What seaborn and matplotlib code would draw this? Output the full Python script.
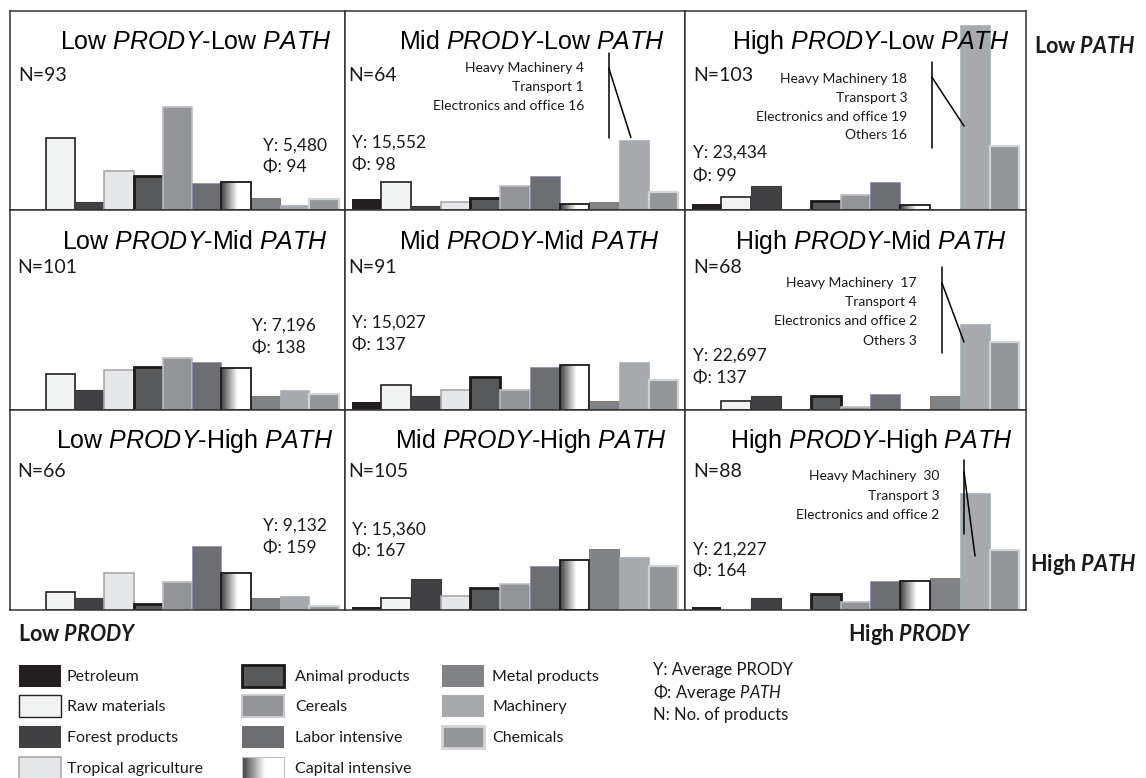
import numpy as np
import pandas as pd
import matplotlib
matplotlib.use("Agg")
import matplotlib.pyplot as plt
import seaborn as sns
from matplotlib.patches import Rectangle
from matplotlib.lines import Line2D
from matplotlib.colors import LinearSegmentedColormap

# ---------------- data ----------------
categories = ["Petroleum", "Raw materials", "Forest products", "Tropical agriculture",
              "Animal products", "Cereals", "Labor intensive", "Capital intensive",
              "Metal products", "Machinery", "Chemicals"]

low_prody_low_path   = [0, 71.6, 8.3, 39.3, 33.6, 102.6, 26.6, 28.3, 11.6, 4.6, 11.3]
mid_prody_low_path   = [11, 27.6, 4.3, 7.6, 12, 23.6, 34.3, 6.3, 7.6, 70.3, 18.3]
high_prody_low_path  = [6, 13, 24, 0, 9, 15, 28, 5.3, 0, 185, 64.3]
low_prody_mid_path   = [0, 36.3, 20, 39.7, 43.3, 52.3, 48, 42.3, 13.7, 20, 15.7]
mid_prody_mid_path   = [8, 25.3, 13.7, 20.3, 33, 20, 43, 45.3, 9.3, 48, 29.7]
high_prody_mid_path  = [0, 9, 14, 0, 14, 2.7, 15.7, 0, 13.7, 86, 68.3]
low_prody_high_path  = [0, 18.3, 11.7, 37.3, 6, 27.7, 64, 36.7, 12, 14, 4]
mid_prody_high_path  = [3, 11.7, 30.7, 14.3, 21.7, 25.7, 44, 50.3, 60.7, 53, 44]
high_prody_high_path = [3, 0, 12, 0, 16, 8, 28.7, 28.7, 31.7, 116.7, 60.3]

panel_values = [[low_prody_low_path, mid_prody_low_path, high_prody_low_path],
                [low_prody_mid_path, mid_prody_mid_path, high_prody_mid_path],
                [low_prody_high_path, mid_prody_high_path, high_prody_high_path]]

prody_levels = ["Low", "Mid", "High"]
path_levels = ["Low", "Mid", "High"]
n_products = [[93, 64, 103], [101, 91, 68], [66, 105, 88]]
avg_prody = [["5,480", "15,552", "23,434"], ["7,196", "15,027", "22,697"], ["9,132", "15,360", "21,227"]]
avg_path = [[94, 98, 99], [138, 137, 137], [159, 167, 164]]

machinery_notes = {
    (0, 1): ["Heavy Machinery 4", "Transport 1", "Electronics and office 16"],
    (0, 2): ["Heavy Machinery 18", "Transport 3", "Electronics and office 19", "Others 16"],
    (1, 2): ["Heavy Machinery  17", "Transport 4", "Electronics and office 2", "Others 3"],
    (2, 2): ["Heavy Machinery  30", "Transport 3", "Electronics and office 2"],
}

# ---------------- styles ----------------
fill_colors = ["#231f20", "#f1f2f2", "#414042", "#e6e7e8", "#58595b", "#939598",
               "#6d6e71", "#ffffff", "#808285", "#a7a9ac", "#939598"]
edge_colors = ["#231f20", "#231f20", "#3a3a3a", "#a7a9ac", "#1a1a1a", "#bcbec0",
               "#8d8ab5", "#1a1a1a", "#6b5e52", "#a3b5c0", "#cfd4d4"]
edge_widths = [0.0, 1.2, 0.8, 1.2, 2.0, 1.2, 0.5, 1.3, 0.5, 0.5, 1.6]
legend_edge_colors = ["#231f20", "#231f20", "#414042", "#a7a9ac", "#1a1a1a", "#c8cacc",
                      "#6d6e71", "#c0c0c0", "#808285", "#a7a9ac", "#d1d3d4"]
legend_edge_widths = [0.0, 1.0, 0.0, 1.2, 2.0, 1.4, 0.0, 0.8, 0.0, 0.0, 2.0]
grad_cmap = LinearSegmentedColormap.from_list(
    "capital", [(0.0, "#3c3c3c"), (0.55, "#ffffff"), (1.0, "#ffffff")])
grad = np.linspace(0, 1, 256).reshape(1, -1)

sns.set_style("white")
plt.rcParams["font.family"] = ["Lato", "DejaVu Sans"]
plt.rcParams["mathtext.fontset"] = "custom"
plt.rcParams["mathtext.rm"] = "Liberation Sans"
plt.rcParams["mathtext.it"] = "Liberation Sans:italic"
plt.rcParams["mathtext.sf"] = "Lato:italic"
plt.rcParams["mathtext.bf"] = "Lato:bold"
plt.rcParams["mathtext.bfit"] = "Lato:italic:bold"

W, H = 1146, 778
fig = plt.figure(figsize=(W / 100, H / 100), dpi=100)

col_edges = [10, 345, 685, 1026]
row_edges = [11, 210, 410, 610]
XLIM = (-0.72, 10.72)

rows = []
for r in range(3):
    for c in range(3):
        for cat, v in zip(categories, panel_values[r][c]):
            rows.append({"row": r, "col": c, "category": cat, "value": v})
df = pd.DataFrame(rows)
palette = dict(zip(categories, fill_colors))

# annotation geometry (data coords of each panel): vertical line x, y-range; diagonal start/end
note_lines = {
    (0, 1): dict(vx=8.16, vy=(157.5, 72.5), d0=(8.16, 141.5), d1=(8.90, 72.5)),
    (0, 2): dict(vx=7.56, vy=(148, 62), d0=(7.56, 133), d1=(8.64, 84)),
    (1, 2): dict(vx=7.90, vy=(143, 57), d0=(7.90, 127), d1=(8.64, 68)),
    (2, 2): dict(vx=8.64, vy=(150, 76), d0=(8.64, 138), d1=(9.01, 54)),
}

axes = {}
for r in range(3):
    for c in range(3):
        x0, x1 = col_edges[c], col_edges[c + 1]
        y0, y1 = row_edges[r], row_edges[r + 1]
        ax = fig.add_axes([x0 / W, 1 - y1 / H, (x1 - x0) / W, (y1 - y0) / H])
        sub = df[(df.row == r) & (df.col == c)]
        sns.barplot(data=sub, x="category", y="value", hue="category", order=categories,
                    hue_order=categories, palette=palette, width=1.0, saturation=1,
                    legend=False, errorbar=None, ax=ax)
        for p in ax.patches:
            i = int(round(p.get_x() + p.get_width() / 2))
            h = p.get_height()
            p.set_edgecolor(edge_colors[i])
            p.set_linewidth(edge_widths[i] if h > 0 else 0)
            if categories[i] == "Capital intensive" and h > 0:
                p.set_facecolor("none")
                p.set_zorder(3)
                im = ax.imshow(grad, extent=(p.get_x(), p.get_x() + p.get_width(), 0, h),
                               cmap=grad_cmap, aspect="auto", zorder=2.5, vmin=0, vmax=1)
                im.set_clip_path(p)
        if (r, c) in note_lines:
            g = note_lines[(r, c)]
            ax.add_line(Line2D([g["vx"], g["vx"]], list(g["vy"]), color="black", lw=1.1, zorder=5))
            ax.add_line(Line2D([g["d0"][0], g["d1"][0]], [g["d0"][1], g["d1"][1]],
                               color="black", lw=1.1, zorder=5))
        ax.set_xlim(*XLIM)
        ax.set_ylim(0, y1 - y0)
        ax.set_xticks([])
        ax.set_yticks([])
        ax.set_xlabel("")
        ax.set_ylabel("")
        for s in ax.spines.values():
            s.set_color("#333333")
            s.set_linewidth(1.1)
        axes[(r, c)] = ax

# ---------------- overlay (pixel coordinates) ----------------
ov = fig.add_axes([0, 0, 1, 1], zorder=10)
ov.set_xlim(0, W)
ov.set_ylim(H, 0)
ov.axis("off")

title_pos = [[(332, 49), (665, 49), (1009, 49)],
             [(328, 249), (659, 249), (1007, 249)],
             [(333, 448), (667, 448), (1013, 448)]]
n_pos = [[(18, 81), (348, 81), (693, 81)],
         [(17, 273), (348, 273), (693, 273)],
         [(17, 477), (348, 477), (693, 477)]]
stat_pos = [[(263, 151, 172), (352, 148, 170), (693, 158, 181)],
            [(252, 331, 353), (352, 328, 350), (693, 361, 383)],
            [(263, 531, 553), (352, 535, 556), (693, 555, 576)]]
note_pos = {(0, 1): (584, 72, 19.2), (0, 2): (907, 83, 18.8),
            (1, 2): (917, 287, 19.2), (2, 2): (939, 480, 19.5)}

for r in range(3):
    for c in range(3):
        tx, ty = title_pos[r][c]
        ov.text(tx, ty, f"{prody_levels[c]} $\\mathit{{PRODY}}$-{path_levels[r]} $\\mathit{{PATH}}$",
                ha="right", va="baseline", fontsize=18, family="Liberation Sans", color="black")
        nx, ny = n_pos[r][c]
        ov.text(nx, ny, f"N={n_products[r][c]}", ha="left", va="baseline", fontsize=14, color="#1a1a1a")
        sx, sy1, sy2 = stat_pos[r][c]
        ov.text(sx, sy1, f"Y: {avg_prody[r][c]}", ha="left", va="baseline", fontsize=12.5, color="#1a1a1a")
        ov.text(sx, sy2, f"Φ: {avg_path[r][c]}", ha="left", va="baseline", fontsize=12.5, color="#1a1a1a")
        if (r, c) in machinery_notes:
            rx, by, dy = note_pos[(r, c)]
            for k, line in enumerate(machinery_notes[(r, c)]):
                ov.text(rx, by + k * dy, line, ha="right", va="baseline", fontsize=10, color="#1a1a1a")

ov.text(1034, 53, r"Low $\mathbfit{PATH}$", ha="left", va="baseline", fontsize=15.5,
        weight="bold", color="#1a1a1a")
ov.text(1030, 571, r"High $\mathbfit{PATH}$", ha="left", va="baseline", fontsize=15.5,
        weight="bold", color="#1a1a1a")
ov.text(18, 641, r"Low $\mathbfit{PRODY}$", ha="left", va="baseline", fontsize=15.5,
        weight="bold", color="#1a1a1a")
ov.text(848, 641, r"High $\mathbfit{PRODY}$", ha="left", va="baseline", fontsize=15.5,
        weight="bold", color="#1a1a1a")

# legend swatches
sw_x = [19, 242, 442]
txt_x = [67, 295, 492]
row_y = [676, 706, 737, 768]
for i, cat in enumerate(categories):
    col, rr = divmod(i, 4)
    x, yc = sw_x[col], row_y[rr]
    lw = legend_edge_widths[i]
    rect = Rectangle((x, yc - 11), 42, 22,
                     facecolor=fill_colors[i] if cat != "Capital intensive" else "none",
                     edgecolor=legend_edge_colors[i] if lw > 0 else "none",
                     linewidth=lw, zorder=3)
    ov.add_patch(rect)
    if cat == "Capital intensive":
        im = ov.imshow(grad, extent=(x, x + 42, yc + 11, yc - 11), cmap=grad_cmap,
                       aspect="auto", zorder=2.5, vmin=0, vmax=1)
        im.set_clip_path(rect)
    ov.text(txt_x[col], yc + 5, cat, ha="left", va="baseline", fontsize=11.5, color="#1a1a1a")

ov.text(653, 675, "Y: Average PRODY", ha="left", va="baseline", fontsize=12, color="#1a1a1a")
ov.text(653, 698, r"Φ: Average $\mathsf{PATH}$", ha="left", va="baseline", fontsize=12, color="#1a1a1a")
ov.text(653, 720, "N: No. of products", ha="left", va="baseline", fontsize=12, color="#1a1a1a")
ov.set_xlim(0, W)
ov.set_ylim(H, 0)

fig.savefig("out.png", dpi=100, facecolor="white")
